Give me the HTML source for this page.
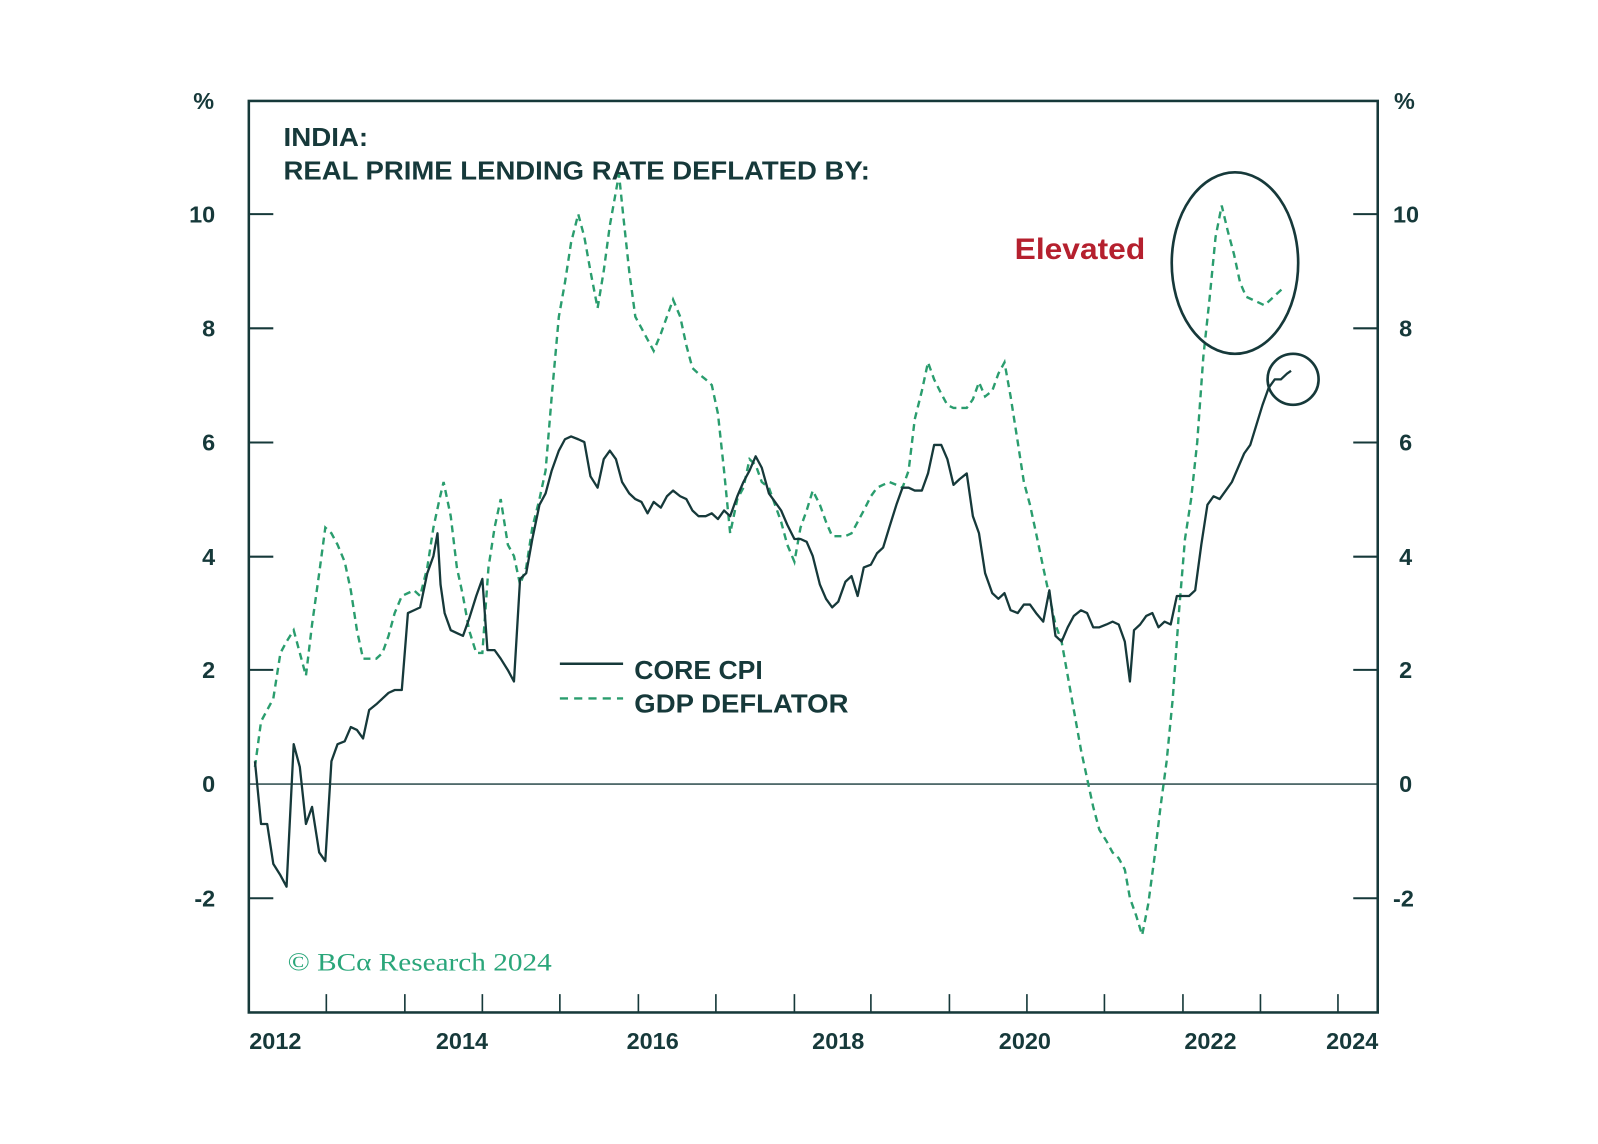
<!DOCTYPE html>
<html><head><meta charset="utf-8"><style>
html,body{margin:0;padding:0;background:#fff;}
svg{display:block;}
text{font-family:"Liberation Sans",sans-serif;}
</style></head><body>
<svg width="1598" height="1144" viewBox="0 0 1567 1122" preserveAspectRatio="none" xmlns="http://www.w3.org/2000/svg">
<rect width="1567" height="1122" fill="#fff"/>
<g stroke="#16393a" fill="none">
<rect x="244" y="99" width="1107" height="894" stroke-width="2.5"/>
<line x1="244" y1="769" x2="1351" y2="769" stroke-width="1.3"/>
<g stroke-width="2">
<line x1="244" y1="210" x2="268" y2="210"/><line x1="244" y1="322" x2="268" y2="322"/><line x1="244" y1="434" x2="268" y2="434"/><line x1="244" y1="546" x2="268" y2="546"/><line x1="244" y1="657" x2="268" y2="657"/><line x1="244" y1="881" x2="268" y2="881"/>
<line x1="1327" y1="210" x2="1351" y2="210"/><line x1="1327" y1="322" x2="1351" y2="322"/><line x1="1327" y1="434" x2="1351" y2="434"/><line x1="1327" y1="546" x2="1351" y2="546"/><line x1="1327" y1="657" x2="1351" y2="657"/><line x1="1327" y1="881" x2="1351" y2="881"/>
</g>
<g stroke-width="1.6">
<line x1="320" y1="975" x2="320" y2="993"/><line x1="397" y1="975" x2="397" y2="993"/><line x1="473" y1="975" x2="473" y2="993"/><line x1="549" y1="975" x2="549" y2="993"/><line x1="626" y1="975" x2="626" y2="993"/><line x1="702" y1="975" x2="702" y2="993"/><line x1="779" y1="975" x2="779" y2="993"/><line x1="854" y1="975" x2="854" y2="993"/><line x1="931" y1="975" x2="931" y2="993"/><line x1="1007" y1="975" x2="1007" y2="993"/><line x1="1083" y1="975" x2="1083" y2="993"/><line x1="1160" y1="975" x2="1160" y2="993"/><line x1="1236" y1="975" x2="1236" y2="993"/><line x1="1312" y1="975" x2="1312" y2="993"/>
</g>
</g>
<g font-size="23" font-weight="bold" fill="#16393a" text-anchor="end">
<text x="210" y="107">%</text>
<text x="211" y="218">10</text><text x="211" y="330">8</text><text x="211" y="442">6</text><text x="211" y="554">4</text><text x="211" y="665">2</text><text x="211" y="777">0</text><text x="211" y="889">-2</text>
</g>
<g font-size="23" font-weight="bold" fill="#16393a">
<text x="1367" y="107">%</text>
<text x="1366" y="218">10</text><text x="1372" y="330">8</text><text x="1372" y="442">6</text><text x="1372" y="554">4</text><text x="1372" y="665">2</text><text x="1372" y="777">0</text><text x="1366" y="889">-2</text>
</g>
<g font-size="23" font-weight="bold" fill="#16393a" text-anchor="middle">
<text x="270" y="1029">2012</text><text x="453" y="1029">2014</text><text x="640" y="1029">2016</text><text x="822" y="1029">2018</text><text x="1005" y="1029">2020</text><text x="1187" y="1029">2022</text><text x="1326" y="1029">2024</text>
</g>
<g font-size="25" font-weight="bold" fill="#16393a">
<text x="278" y="143" textLength="83" lengthAdjust="spacingAndGlyphs">INDIA:</text>
<text x="278" y="176" textLength="575" lengthAdjust="spacingAndGlyphs">REAL PRIME LENDING RATE DEFLATED BY:</text>
</g>
<g transform="translate(0,769) scale(1,-55.9)" fill="none">
<polyline vector-effect="non-scaling-stroke" stroke="#2a9d6e" stroke-width="2.4" stroke-dasharray="7,5" points="250,0.3 256,1.1 262,1.3 268,1.5 275,2.3 281,2.5 288,2.7 294,2.3 300,1.9 306,2.8 313,3.7 319,4.5 325,4.4 331,4.2 338,3.9 344,3.4 350,2.7 356,2.2 362,2.2 369,2.2 375,2.3 381,2.6 387,3.0 394,3.3 400,3.35 406,3.4 412,3.3 419,3.8 425,4.5 431,5.0 435,5.3 442,4.7 448,3.8 454,3.3 460,2.7 467,2.3 473,2.3 479,3.8 485,4.5 491,5.0 498,4.2 504,4.0 510,3.5 516,3.8 522,4.5 529,5.0 535,5.5 541,6.8 548,8.2 554,8.8 560,9.5 567,10.0 573,9.6 579,9.0 586,8.35 592,9.0 598,9.8 604,10.4 607,10.7 611,10.0 617,9.0 623,8.2 629,8.0 635,7.8 641,7.6 648,7.9 654,8.2 660,8.5 667,8.2 673,7.7 679,7.3 685,7.2 692,7.1 698,7.0 704,6.5 710,5.5 716,4.4 723,5.0 729,5.2 735,5.7 741,5.6 747,5.3 754,5.2 760,4.9 766,4.6 772,4.2 779,3.9 785,4.5 791,4.8 797,5.15 804,4.9 810,4.6 816,4.35 822,4.35 829,4.35 835,4.4 841,4.6 847,4.8 854,5.05 860,5.2 866,5.25 872,5.3 879,5.25 885,5.2 891,5.5 897,6.4 904,6.9 910,7.4 916,7.1 923,6.85 929,6.65 935,6.6 941,6.6 948,6.6 954,6.75 960,7.05 966,6.8 973,6.9 979,7.2 985,7.4 991,6.8 998,6.0 1004,5.3 1010,4.9 1016,4.4 1023,3.8 1029,3.3 1035,2.8 1041,2.5 1047,1.9 1053,1.3 1060,0.6 1066,0.1 1072,-0.4 1078,-0.8 1085,-1.0 1091,-1.2 1097,-1.3 1103,-1.5 1108,-2.0 1114,-2.3 1120,-2.65 1126,-2.1 1132,-1.3 1138,-0.4 1144,0.4 1150,1.5 1156,3.0 1162,4.3 1168,5.0 1174,6.0 1180,7.5 1186,8.5 1192,9.6 1198,10.15 1204,9.7 1210,9.3 1216,8.8 1222,8.55 1228,8.5 1234,8.45 1240,8.4 1246,8.5 1252,8.6 1258,8.7"/>
<polyline vector-effect="non-scaling-stroke" stroke="#16393a" stroke-width="2.3" stroke-linejoin="round" points="250,0.4 256,-0.7 262,-0.7 268,-1.4 275,-1.6 281,-1.8 288,0.7 294,0.3 300,-0.7 306,-0.4 313,-1.2 319,-1.35 325,0.4 331,0.7 338,0.75 344,1.0 350,0.95 356,0.8 362,1.3 369,1.4 375,1.5 381,1.6 387,1.65 394,1.65 400,3.0 406,3.05 412,3.1 419,3.7 425,4.0 429,4.4 432,3.5 436,3.0 442,2.7 448,2.65 454,2.6 460,2.9 467,3.3 473,3.6 478,2.35 485,2.35 491,2.2 498,2.0 504,1.8 510,3.6 516,3.7 522,4.3 529,4.9 535,5.1 541,5.5 548,5.85 554,6.05 560,6.1 567,6.05 573,6.0 579,5.4 586,5.2 592,5.7 598,5.85 604,5.7 610,5.3 617,5.1 623,5.0 629,4.95 635,4.75 641,4.95 648,4.85 654,5.05 660,5.15 667,5.05 673,5.0 679,4.8 685,4.7 692,4.7 698,4.75 704,4.65 710,4.8 716,4.7 723,5.05 729,5.3 735,5.5 741,5.75 747,5.55 754,5.1 760,4.95 766,4.8 772,4.55 779,4.3 785,4.3 791,4.25 797,4.0 804,3.5 810,3.25 816,3.1 822,3.2 829,3.55 835,3.65 841,3.3 847,3.8 854,3.85 860,4.05 866,4.15 872,4.5 879,4.9 885,5.2 891,5.2 897,5.15 904,5.15 910,5.45 916,5.95 923,5.95 929,5.7 935,5.25 941,5.35 948,5.45 954,4.7 960,4.4 966,3.7 973,3.35 979,3.25 985,3.35 991,3.05 998,3.0 1004,3.15 1010,3.15 1016,3.0 1023,2.85 1029,3.4 1035,2.6 1041,2.5 1047,2.75 1053,2.95 1060,3.05 1066,3.0 1072,2.75 1078,2.75 1085,2.8 1091,2.85 1097,2.8 1103,2.5 1108,1.8 1112,2.7 1118,2.8 1124,2.95 1130,3.0 1136,2.75 1142,2.85 1148,2.8 1154,3.3 1160,3.3 1166,3.3 1172,3.4 1178,4.2 1184,4.9 1190,5.05 1196,5.0 1202,5.15 1208,5.3 1214,5.55 1220,5.8 1226,5.95 1232,6.3 1238,6.65 1244,6.95 1250,7.1 1256,7.1 1262,7.2 1266,7.25"/>
</g>
<ellipse cx="1211" cy="258" rx="62" ry="89" fill="none" stroke="#16393a" stroke-width="2.6"/>
<circle cx="1268" cy="372" r="25" fill="none" stroke="#16393a" stroke-width="2.6"/>
<text x="995" y="254" font-size="29" font-weight="bold" fill="#b5202e" textLength="128" lengthAdjust="spacingAndGlyphs">Elevated</text>
<line x1="549" y1="651" x2="611" y2="651" stroke="#16393a" stroke-width="2.4"/>
<line x1="549" y1="685" x2="611" y2="685" stroke="#2a9d6e" stroke-width="2.4" stroke-dasharray="8,6"/>
<g font-size="25" font-weight="bold" fill="#16393a">
<text x="622" y="666" textLength="126" lengthAdjust="spacingAndGlyphs">CORE CPI</text>
<text x="622" y="699" textLength="210" lengthAdjust="spacingAndGlyphs">GDP DEFLATOR</text>
</g>
<text x="282" y="952" font-size="25" fill="#2aa67a" style="font-family:'Liberation Serif',serif" textLength="259" lengthAdjust="spacingAndGlyphs">© BCα Research 2024</text>
</svg>
</body></html>
